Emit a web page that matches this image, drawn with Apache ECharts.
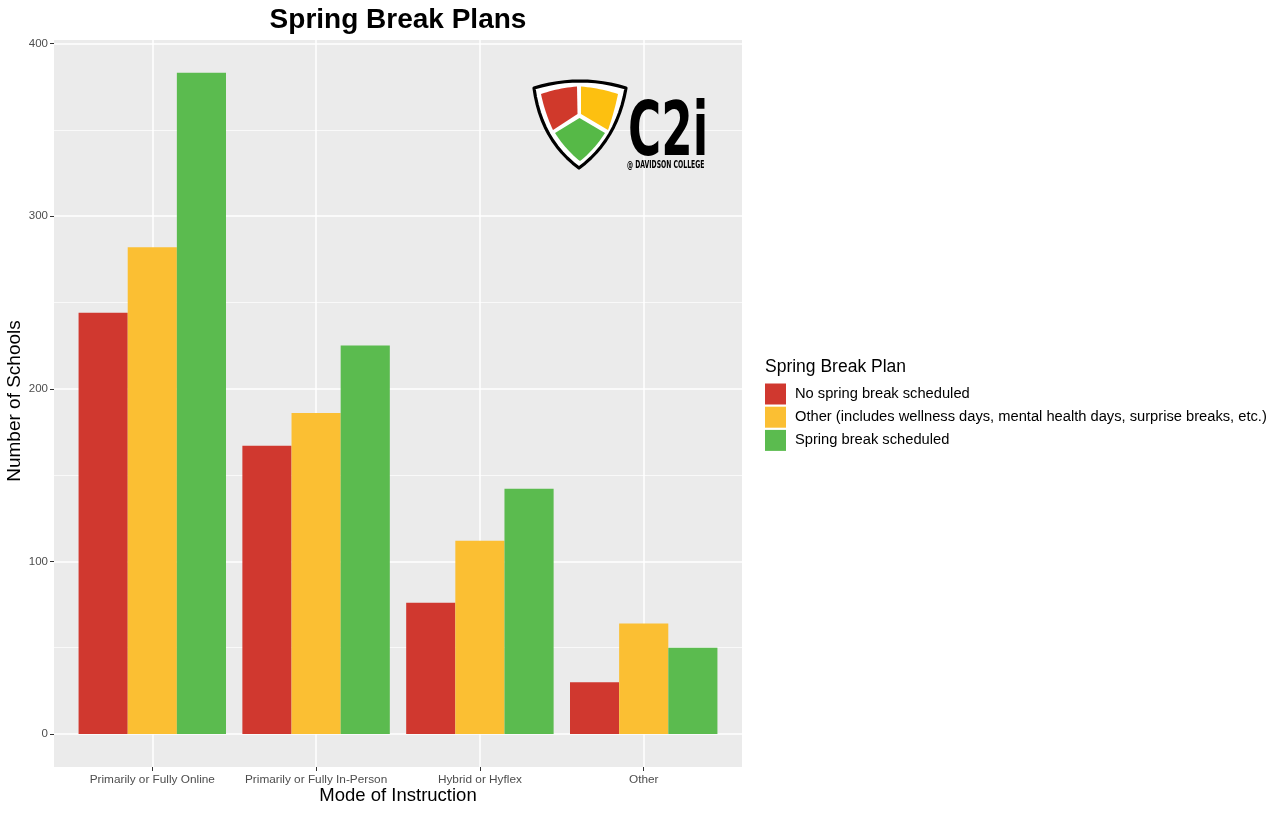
<!DOCTYPE html>
<html><head><meta charset="utf-8">
<script src="https://cdn.jsdelivr.net/npm/echarts@6/dist/echarts.min.js"></script>
<style>html,body{margin:0;padding:0;background:#fff}#c{width:1282px;height:813px}</style>
</head><body><div id="c"></div>
<script>
const categories = ['Primarily or Fully Online', 'Primarily or Fully In-Person', 'Hybrid or Hyflex', 'Other'];
const seriesNames = ['No spring break scheduled', 'Other (includes wellness days, mental health days, surprise breaks, etc.)', 'Spring break scheduled'];
const noBreak = [244, 167, 76, 30];
const otherPlan = [282, 186, 112, 64];
const breakScheduled = [383, 225, 142, 50];
const yTicks = [0, 100, 200, 300, 400];
const colors = ['#D0382F', '#FBBF33', '#5BBB4F'];

const FONT = '"Liberation Sans", Arial, sans-serif';
const chart = echarts.init(document.getElementById('c'), null, {renderer: 'canvas'});

const P = {left: 54, right: 742, top: 40, bottom: 767};
const y0 = 734, y400 = 43.5;
const unit = (P.right - P.left) / 4.2;
const c1 = P.left + 0.6 * unit, c4 = P.left + 3.6 * unit;

function shapePts(segs) {
  const pts = [];
  let cur = segs[0].slice(1);
  pts.push(cur);
  for (let i = 1; i < segs.length; i++) {
    const s = segs[i];
    if (s[0] === 'L') { cur = [s[1], s[2]]; pts.push(cur); }
    else if (s[0] === 'Q') {
      const [cx, cy, ex, ey] = s.slice(1);
      for (let t = 1; t <= 12; t++) {
        const u = t / 12;
        const x = (1 - u) * (1 - u) * cur[0] + 2 * (1 - u) * u * cx + u * u * ex;
        const y = (1 - u) * (1 - u) * cur[1] + 2 * (1 - u) * u * cy + u * u * ey;
        pts.push([x, y]);
      }
      cur = [ex, ey];
    }
  }
  return pts;
}
const shieldPts = shapePts([['M', 534, 88], ['Q', 580, 74, 626, 88], ['Q', 617, 140, 579, 168], ['Q', 541, 140, 534, 88]]);
const redPts = shapePts([['M', 541, 94], ['Q', 558, 88, 577, 86.5], ['L', 577.5, 114], ['L', 553, 130], ['Q', 545, 113, 541, 94]]);
const yelPts = shapePts([['M', 581, 86.5], ['Q', 600, 88, 618, 94], ['Q', 614, 113, 608, 130], ['L', 581, 114]]);
const grnPts = shapePts([['M', 555, 133], ['L', 579.5, 118], ['L', 605, 133], ['Q', 594, 150, 580, 161], ['Q', 566, 150, 555, 133]]);

const option = {
  animation: false,
  title: {
    text: 'Spring Break Plans', left: 398, top: 6, padding: 0, textAlign: 'center',
    textStyle: {fontFamily: FONT, fontWeight: 'bold', fontSize: 28, color: '#000'}
  },
  legend: {
    orient: 'vertical', left: 765, top: 383.5, padding: 0, itemWidth: 21, itemHeight: 21, itemGap: 2.2,
    icon: 'rect', data: seriesNames,
    textStyle: {fontFamily: FONT, fontSize: 14.7, color: '#000', padding: [0, 0, 0, 4]}
  },
  grid: [
    {left: P.left, top: y400, width: P.right - P.left, height: y0 - y400, containLabel: false},
    {left: c1 - unit / 2, top: y400, width: unit * 4, height: y0 - y400, containLabel: false},
    {left: c1, top: P.top, width: c4 - c1, height: P.bottom - P.top, containLabel: false}
  ],
  xAxis: [
    {gridIndex: 0, type: 'value', show: false, min: 0, max: 1},
    {gridIndex: 1, type: 'category', show: false, data: categories},
    {gridIndex: 2, type: 'category', data: categories, boundaryGap: false,
      axisLine: {show: false},
      axisTick: {show: true, length: 4, lineStyle: {color: '#333', width: 1}},
      axisLabel: {interval: 0, margin: 7, fontFamily: FONT, fontSize: 11.8, color: '#4D4D4D'},
      splitLine: {show: true, lineStyle: {color: '#fff', width: 1.5}}}
  ],
  yAxis: [
    {gridIndex: 0, type: 'value', min: yTicks[0], max: yTicks[yTicks.length - 1], interval: 100,
      axisLine: {show: false},
      axisTick: {show: true, length: 4, lineStyle: {color: '#333', width: 1}},
      axisLabel: {margin: 6, fontFamily: FONT, fontSize: 11.5, color: '#4D4D4D'},
      splitLine: {show: true, lineStyle: {color: '#fff', width: 1.5}},
      minorTick: {show: false, splitNumber: 2},
      minorSplitLine: {show: true, lineStyle: {color: '#fff', width: 0.7}}},
    {gridIndex: 1, type: 'value', show: false, min: 0, max: 400},
    {gridIndex: 2, type: 'value', show: false, min: 0, max: 1}
  ],
  series: [
    {name: seriesNames[0], type: 'bar', xAxisIndex: 1, yAxisIndex: 1, data: noBreak, itemStyle: {color: colors[0]}, barGap: '0%', barCategoryGap: '10%', z: 3},
    {name: seriesNames[1], type: 'bar', xAxisIndex: 1, yAxisIndex: 1, data: otherPlan, itemStyle: {color: colors[1]}, barGap: '0%', barCategoryGap: '10%', z: 3},
    {name: seriesNames[2], type: 'bar', xAxisIndex: 1, yAxisIndex: 1, data: breakScheduled, itemStyle: {color: colors[2]}, barGap: '0%', barCategoryGap: '10%', z: 3}
  ],
  graphic: [
    {type: 'rect', z: -10, silent: true, shape: {x: P.left, y: P.top, width: P.right - P.left, height: P.bottom - P.top}, style: {fill: '#EBEBEB'}},
    {type: 'text', z: 5, x: 398, y: 796, style: {text: 'Mode of Instruction', font: '18.5px ' + FONT, fill: '#000', textAlign: 'center', textVerticalAlign: 'middle'}},
    {type: 'text', z: 5, x: 15, y: 401, rotation: Math.PI / 2, style: {text: 'Number of Schools', font: '19px ' + FONT, fill: '#000', textAlign: 'center', textVerticalAlign: 'middle'}},
    {type: 'text', z: 5, x: 765, y: 367, style: {text: 'Spring Break Plan', font: '17.5px ' + FONT, fill: '#000', textAlign: 'left', textVerticalAlign: 'middle'}},
    {type: 'polygon', z: 20, shape: {points: shieldPts}, style: {fill: '#fff', stroke: '#000', lineWidth: 3.2, lineJoin: 'round'}},
    {type: 'polygon', z: 21, shape: {points: redPts}, style: {fill: '#D0392B'}},
    {type: 'polygon', z: 21, shape: {points: yelPts}, style: {fill: '#FDC010'}},
    {type: 'polygon', z: 21, shape: {points: grnPts}, style: {fill: '#56B947'}},
    {type: 'text', z: 21, x: 628, y: 173, scaleX: 0.67, originX: 0, originY: 0, style: {text: 'C2i', font: 'bold 75px "DejaVu Sans Condensed", "DejaVu Sans", sans-serif', fill: '#000', textAlign: 'left', textVerticalAlign: 'bottom'}},
    {type: 'text', z: 21, x: 627, y: 165.5, scaleX: 0.68, originX: 0, originY: 0, style: {text: '@ DAVIDSON COLLEGE', font: 'bold 10px "DejaVu Sans Condensed", "DejaVu Sans", sans-serif', fill: '#000', textAlign: 'left', textVerticalAlign: 'middle'}}
  ]
};
chart.setOption(option);
</script></body></html>
